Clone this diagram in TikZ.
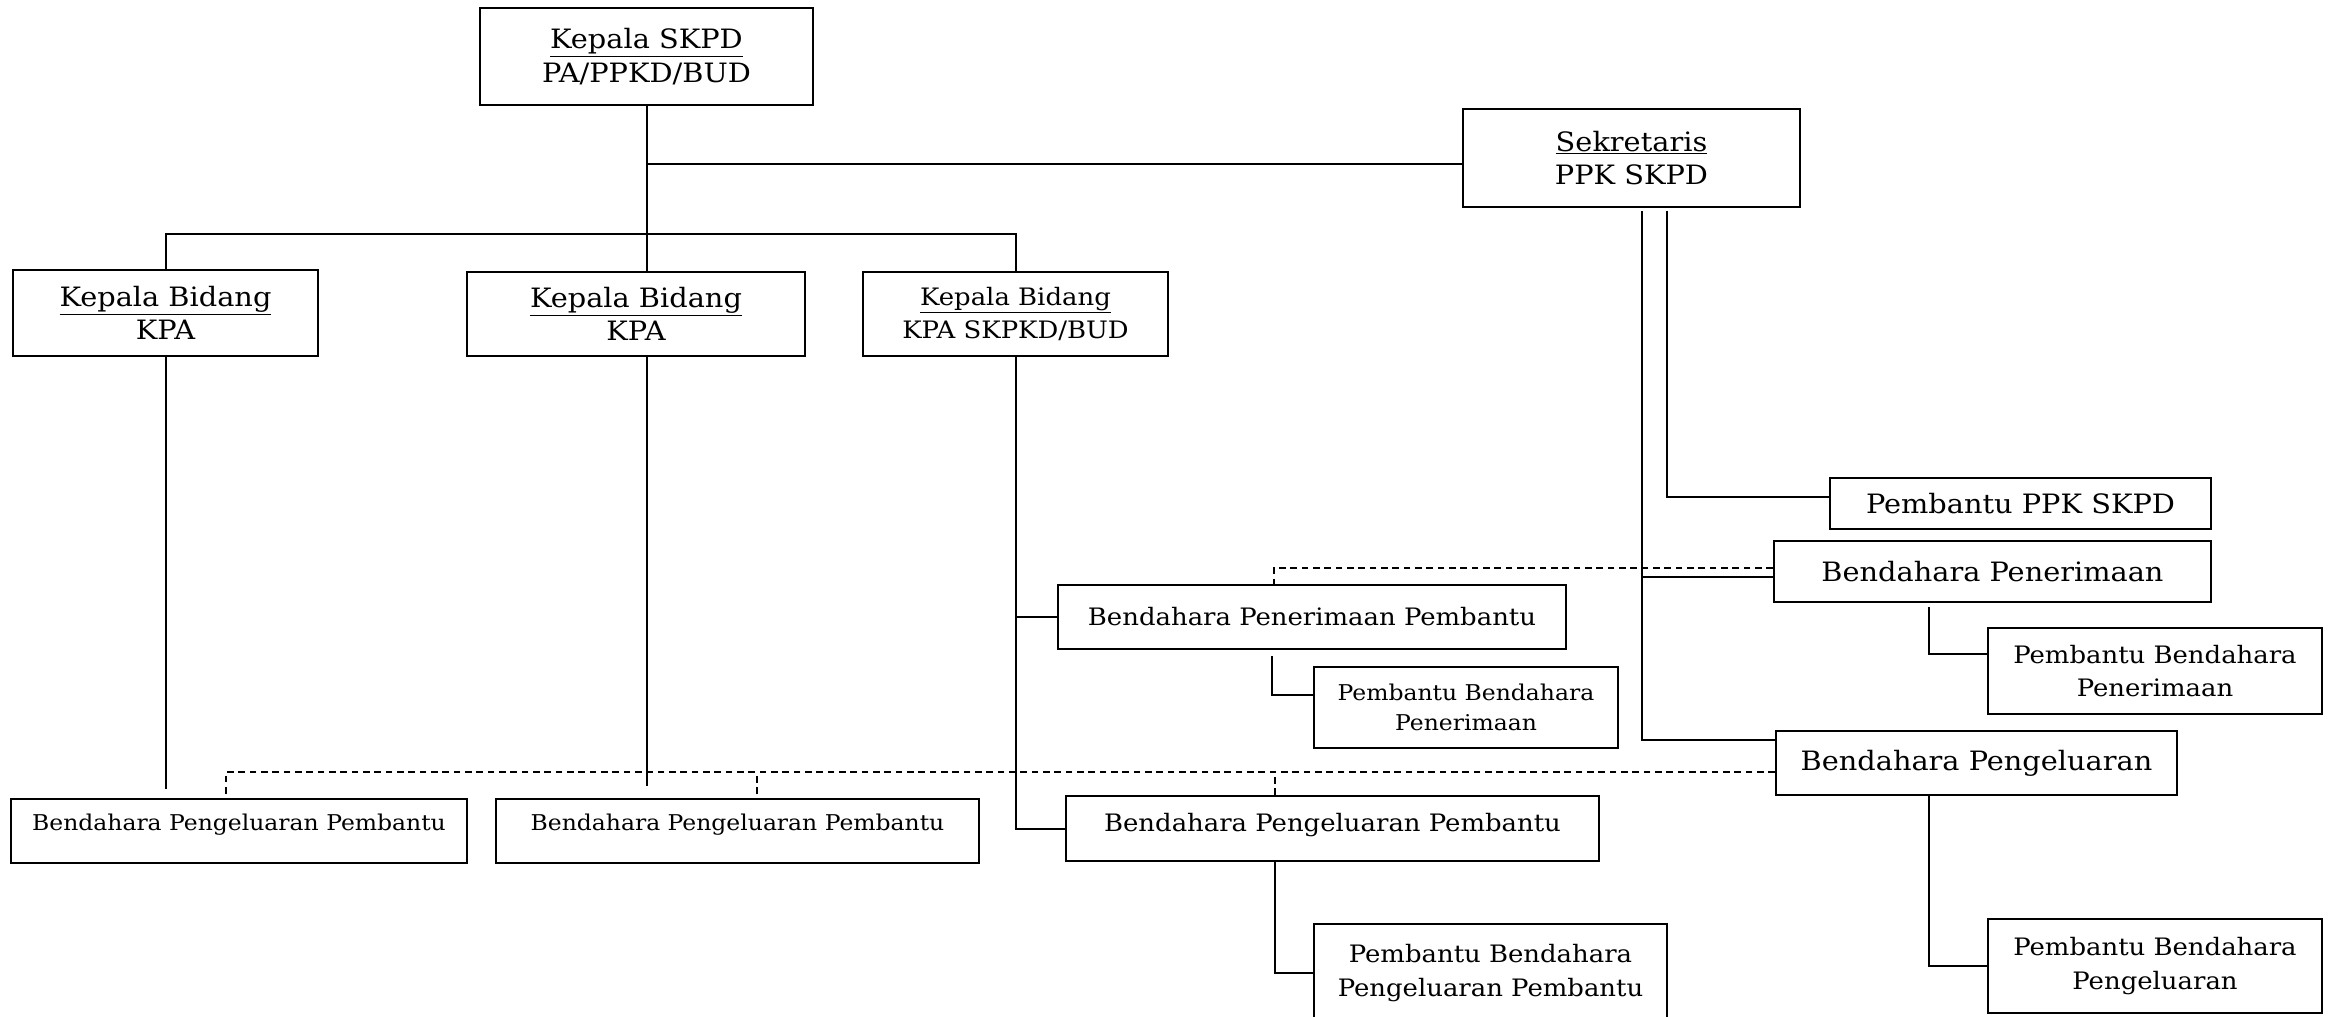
\documentclass[tikz,border=0pt]{standalone}
\usepackage{fontspec}
\setmainfont{DejaVu Serif}[FakeStretch=1.08]
\usetikzlibrary{calc}

\tikzset{every picture/.style={line width=1.5pt}}
\tikzset{
  jabatan/.style={draw, align=center, inner sep=0pt, font=\fontsize{20}{25}\selectfont},
  sedang/.style={font=\fontsize{18}{25}\selectfont},
  kecil/.style={font=\fontsize{16.3}{22.5}\selectfont},
  naik/.style={text depth=#1},
  naik/.default=13pt,
  garis putus/.style={dashed, dash pattern=on 5pt off 3.5pt}
}

\begin{document}
\begin{tikzpicture}[x=0.75pt,y=0.75pt,yscale=-1,xscale=1]
\useasboundingbox (0,0) rectangle (2335,1017);
%Shape: Rectangle - pimpinan
\node [jabatan, minimum width=249.75pt, minimum height=72.75pt] (kskpd) at (646.5,56.5) {\underline{Kepala SKPD}\\PA/PPKD/BUD};
\node [jabatan, minimum width=252.75pt, minimum height=73.5pt] (sekr) at (1631.5,158) {\underline{Sekretaris}\\PPK SKPD};
%Shape: Rectangle - bidang
\node [jabatan, minimum width=228.75pt, minimum height=64.5pt] (kb1) at (165.5,313) {\underline{Kepala Bidang}\\KPA};
\node [jabatan, minimum width=253.5pt, minimum height=63pt] (kb2) at (636,314) {\underline{Kepala Bidang}\\KPA};
\node [jabatan, sedang, minimum width=228.75pt, minimum height=63pt] (kb3) at (1015.5,314) {\underline{Kepala Bidang}\\KPA SKPKD/BUD};
%Shape: Rectangle - bendahara
\node [jabatan, minimum width=285.75pt, minimum height=38.25pt] (pppk) at (2020.5,503.5) {Pembantu PPK SKPD};
\node [jabatan, minimum width=327.75pt, minimum height=45.75pt] (bpen) at (1992.5,571.5) {Bendahara Penerimaan};
\node [jabatan, sedang, minimum width=381pt, minimum height=48pt] (bpenp) at (1312,617) {Bendahara Penerimaan Pembantu};
\node [jabatan, kecil, minimum width=228pt, minimum height=60.75pt] (pbpen1) at (1466,707.5) {Pembantu Bendahara\\Penerimaan};
\node [jabatan, sedang, minimum width=250.5pt, minimum height=64.5pt] (pbpen2) at (2155,671) {Pembantu Bendahara\\Penerimaan};
\node [jabatan, minimum width=300.75pt, minimum height=48pt] (bpeng) at (1976.5,763) {Bendahara Pengeluaran};
\node [jabatan, kecil, naik, minimum width=342pt, minimum height=48pt] (bpp1) at (239,831) {Bendahara Pengeluaran Pembantu};
\node [jabatan, kecil, naik, minimum width=362.25pt, minimum height=48pt] (bpp2) at (737.5,831) {Bendahara Pengeluaran Pembantu};
\node [jabatan, sedang, naik=9pt, minimum width=399.75pt, minimum height=48.75pt] (bpp3) at (1332.5,828.5) {Bendahara Pengeluaran Pembantu};
\node [jabatan, sedang, minimum width=264.75pt, minimum height=73.5pt] (pbpp) at (1490.5,973) {Pembantu Bendahara\\Pengeluaran Pembantu};
\node [jabatan, sedang, minimum width=250.5pt, minimum height=70.5pt] (pbpeng) at (2155,966) {Pembantu Bendahara\\Pengeluaran};

%Straight Lines - garis komando
\coordinate (hub) at (646,164);
\coordinate (bar) at (646,234);
\draw (kskpd.south) -- (kskpd.south |- kb2.north);
\draw (hub) -- (hub -| sekr.west);
\draw (kb1.north) |- (bar) -| (kb3.north);
\draw (kb1.south) -- ($(kb1.south |- bpp1.north)+(0,-9)$);
\draw (kb2.south -| kskpd.south) -- ($(kskpd.south |- bpp2.north)+(0,-12)$);
\draw (kb3.south) |- (bpp3.west);
\draw (kb3.south |- bpenp.west) -- (bpenp.west);
%Straight Lines - sekretaris
\coordinate (sekrL) at ($(sekr.south)+(10,3)$);
\coordinate (sekrR) at ($(sekr.south)+(35,3)$);
\draw (sekrR) |- ($(pppk.west)+(0,-7)$);
\draw (sekrL) |- ($(bpeng.west)+(0,-23)$);
\draw ($(sekrL |- bpen.west)+(0,5)$) -- ($(bpen.west)+(0,5)$);
%Straight Lines - pembantu
\draw ($(bpen.south)+(-64,4)$) |- ($(pbpen2.west)+(0,-17)$);
\draw ($(bpeng.south)+(-48,0)$) |- (pbpeng.west);
\draw ($(bpenp.south)+(-40,6)$) |- ($(pbpen1.west)+(0,-13)$);
\draw ($(bpp3.south)+(-58,0)$) |- (pbpp.west);

%Straight Lines - garis koordinasi
\draw [garis putus] ($(bpen.west)+(0,-4)$) -| ($(bpenp.north)+(-38,0)$);
\coordinate (dl) at ($(bpeng.west)+(0,9)$);
\draw [garis putus] (dl) -| ($(bpp1.north)+(-13,-4)$);
\coordinate (bpp2in) at ($(bpp2.north)+(19.5,-4)$);
\draw [garis putus] (bpp2in) -- (bpp2in |- dl);
\coordinate (bpp3in) at ($(bpp3.north)+(-58,0)$);
\draw [garis putus] (bpp3in) -- (bpp3in |- dl);
\end{tikzpicture}
\end{document}
